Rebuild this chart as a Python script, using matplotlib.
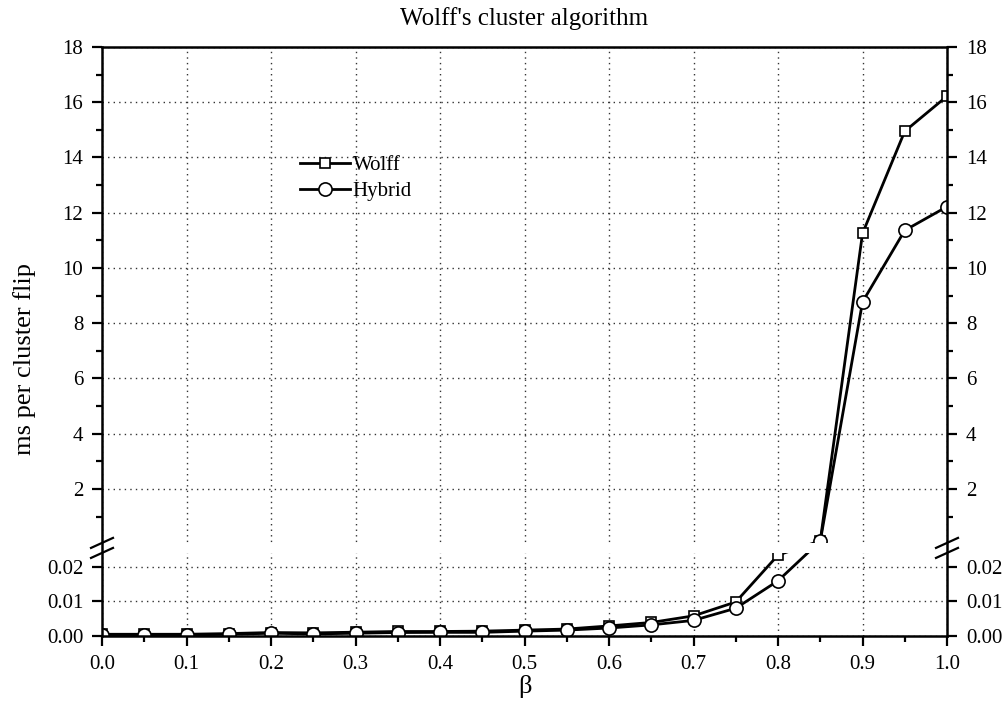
import numpy as np
import matplotlib
matplotlib.use("Agg")
from matplotlib import pyplot as plt
from matplotlib.lines import Line2D

# data (ms per cluster flip)
beta = [0.0, 0.05, 0.1, 0.15, 0.2, 0.25, 0.3, 0.35, 0.4, 0.45, 0.5,
        0.55, 0.6, 0.65, 0.7, 0.75, 0.8, 0.85, 0.9, 0.95, 1.0]
wolff = [0.0005, 0.0005, 0.0005, 0.0007, 0.0010, 0.0009, 0.0011, 0.0013,
         0.0013, 0.0014, 0.0017, 0.0020, 0.0029, 0.0039, 0.0058, 0.0098,
         0.0233, 0.12, 11.25, 14.95, 16.22]
hybrid = [0.0003, 0.0003, 0.0003, 0.0005, 0.0008, 0.0006, 0.0008, 0.0010,
          0.00105, 0.00105, 0.0014, 0.0017, 0.0023, 0.0032, 0.0045, 0.0080,
          0.0159, 0.11, 8.77, 11.36, 12.22]

lower_ticks = [0.0, 0.01, 0.02]
lower_labels = ["0.00", "0.01", "0.02"]
upper_ticks = [2, 4, 6, 8, 10, 12, 14, 16, 18]
upper_minor = [1, 3, 5, 7, 9, 11, 13, 15, 17]
x_ticks = [0.0, 0.1, 0.2, 0.3, 0.4, 0.5, 0.6, 0.7, 0.8, 0.9, 1.0]

# broken axis: lower part 0..B_LO, gap, upper part from B_HI
B_LO, B_HI = 0.024, 0.04
K_LO, K_HI, OFF_HI = 3470.0, 27.6, 91.8


def fwd(v):
    v = np.asarray(v, dtype=float)
    lo = K_LO * v
    hi = OFF_HI + K_HI * v
    y0, y1 = K_LO * B_LO, OFF_HI + K_HI * B_HI
    mid = y0 + (v - B_LO) * (y1 - y0) / (B_HI - B_LO)
    return np.where(v <= B_LO, lo, np.where(v >= B_HI, hi, mid))


def inv(y):
    y = np.asarray(y, dtype=float)
    y0, y1 = K_LO * B_LO, OFF_HI + K_HI * B_HI
    lo = y / K_LO
    hi = (y - OFF_HI) / K_HI
    mid = B_LO + (y - y0) * (B_HI - B_LO) / (y1 - y0)
    return np.where(y <= y0, lo, np.where(y >= y1, hi, mid))


plt.rcParams['font.family'] = ['Liberation Serif', 'DejaVu Serif']

fig = plt.figure(figsize=(10.08, 7.22), dpi=100)
ax = fig.add_axes([0.1012, 0.1191, 0.8383, 0.8158])
ax.set_yscale('function', functions=(fwd, inv))
ax.set_xlim(0, 1)
ax.set_ylim(0, 18)

ax.plot(beta, wolff, '-s', color='black', lw=2.0, ms=7.5, mfc='white',
        mec='black', mew=1.2, zorder=2, label='Wolff')
ax.plot(beta, hybrid, '-o', color='black', lw=2.0, ms=9.5, mfc='white',
        mec='black', mew=1.2, zorder=2.1, label='Hybrid')

# white gap at the break
ax.axhspan(B_LO, B_HI, color='white', zorder=2.3, lw=0)

ax.set_yticks(lower_ticks + upper_ticks)
ax.set_yticklabels(lower_labels + [str(t) for t in upper_ticks])
ax.set_yticks(upper_minor, minor=True)
ax.set_xticks(x_ticks)
ax.set_xticklabels(["%.1f" % t for t in x_ticks])
ax.set_xticks(np.arange(0.05, 1.0, 0.1), minor=True)

ax.grid(True, which='major', ls=(0, (1, 3)), color='#333333', lw=1.0)
ax.set_axisbelow(True)

for s in ax.spines.values():
    s.set_linewidth(1.8)
    s.set_zorder(2.5)
ax.tick_params(which='both', direction='out', labelsize=15, width=1.6,
               left=True, right=True, labelright=True, top=False, pad=6)
ax.tick_params(which='major', length=7.5)
ax.tick_params(which='minor', length=4.5)

# break marks on both spines
yc = fwd(0.5 * (B_LO + B_HI)) / 589.0
for xs in (0.0, 1.0):
    for dy in (-0.0085, 0.0085):
        ax.add_line(Line2D([xs - 0.013, xs + 0.013],
                           [yc + dy - 0.0085, yc + dy + 0.0085],
                           transform=ax.transAxes, color='black', lw=1.6,
                           clip_on=False, zorder=3))

ax.set_title("Wolff's cluster algorithm", fontsize=18, pad=16)
ax.set_xlabel("β", fontsize=19)
ax.xaxis.set_label_coords(0.5, -0.066)
ax.set_ylabel("ms per cluster flip", fontsize=19)
ax.yaxis.set_label_coords(-0.078, 0.47)

ax.legend(loc='upper left', bbox_to_anchor=(0.225, 0.83), frameon=False,
          fontsize=15, handlelength=2.4, handletextpad=0.1,
          labelspacing=0.3, borderaxespad=0)

fig.savefig("out.png", dpi=100)
